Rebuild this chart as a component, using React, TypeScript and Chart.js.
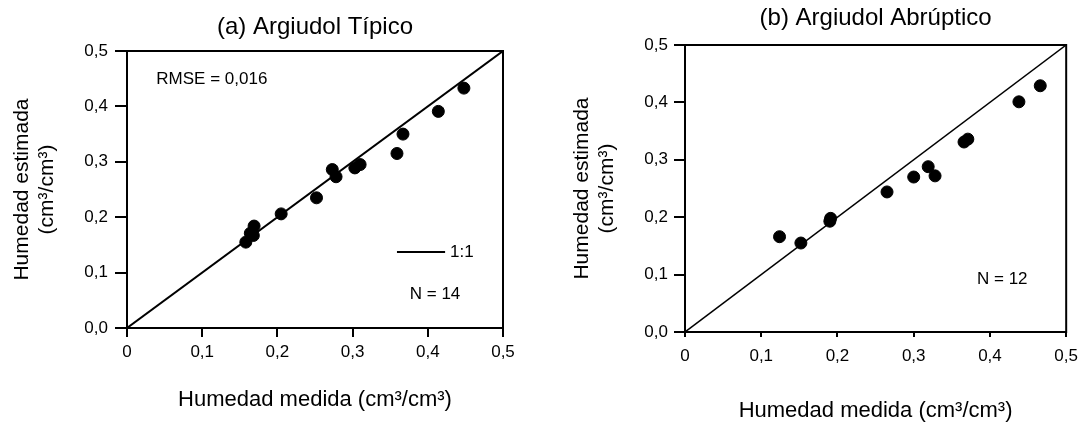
import React, { useEffect, useRef } from 'react';
import { Chart, registerables } from 'chart.js';

Chart.register(...registerables);

// ---------- data ----------
const xTickLabels = ['0', '0,1', '0,2', '0,3', '0,4', '0,5'];
const yTickLabels = ['0,0', '0,1', '0,2', '0,3', '0,4', '0,5'];

const typicMeasured = [0.448, 0.414, 0.367, 0.359, 0.31, 0.303, 0.273, 0.278, 0.252, 0.205, 0.169, 0.164, 0.168, 0.158];
const typicEstimated = [0.433, 0.391, 0.35, 0.315, 0.295, 0.289, 0.286, 0.273, 0.235, 0.206, 0.184, 0.171, 0.167, 0.155];

const abruptMeasured = [0.466, 0.438, 0.371, 0.366, 0.319, 0.328, 0.3, 0.265, 0.191, 0.19, 0.152, 0.124];
const abruptEstimated = [0.429, 0.401, 0.336, 0.331, 0.288, 0.272, 0.27, 0.244, 0.198, 0.193, 0.155, 0.166];

const oneToOne = [0, 0.5];

const titleA = '(a) Argiudol Típico';
const titleB = '(b) Argiudol Abrúptico';
const xTitle = 'Humedad medida (cm³/cm³)';
const yTitle = ['Humedad estimada', '(cm³/cm³)'];
const rmseText = 'RMSE = 0,016';
const nTextA = 'N = 14';
const nTextB = 'N = 12';
const lineLabel = '1:1';

const FONT = '"Liberation Sans", Arial, Helvetica, sans-serif';

type TextNote = { text: string; x: number; y: number };
type Panel = {
  title: string;
  measured: number[];
  estimated: number[];
  notes: TextNote[];
  legendLine?: { x1: number; x2: number; y: number; label: string; labelX: number };
  width: number;
  yScaleWidth: number;
  xScaleHeight: number;
  rightPad: number;
  titlePad: { top: number; bottom: number };
  yTitlePad: number;
  xTitlePad: number;
  yTickLen: number;
  yTickPad: number;
  xTickLen: number;
  xTickPad: number;
  lineWidth: number;
};

const panelA: Panel = {
  title: titleA,
  measured: typicMeasured,
  estimated: typicEstimated,
  notes: [
    { text: rmseText, x: 0.039, y: 0.449 },
    { text: nTextA, x: 0.376, y: 0.06 },
  ],
  legendLine: { x1: 0.359, x2: 0.423, y: 0.137, label: lineLabel, labelX: 0.4295 },
  width: 540,
  yScaleWidth: 127,
  xScaleHeight: 94,
  rightPad: 37,
  titlePad: { top: 12.6, bottom: 9.6 },
  yTitlePad: 9.4,
  xTitlePad: 11,
  yTickLen: 12,
  yTickPad: 7,
  xTickLen: 9,
  xTickPad: 5,
  lineWidth: 2,
};

const panelB: Panel = {
  title: titleB,
  measured: abruptMeasured,
  estimated: abruptEstimated,
  notes: [{ text: nTextB, x: 0.383, y: 0.091 }],
  width: 547,
  yScaleWidth: 145,
  xScaleHeight: 90,
  rightPad: 18,
  titlePad: { top: 3.6, bottom: 12.6 },
  yTitlePad: 29.4,
  xTitlePad: 0,
  yTickLen: 11,
  yTickPad: 6,
  xTickLen: 5,
  xTickPad: 9,
  lineWidth: 1.5,
};

function makeAnnotPlugin(p: Panel) {
  return {
    id: 'annot',
    beforeDatasetsDraw(chart: any) {
      const { ctx, chartArea } = chart;
      ctx.save();
      ctx.strokeStyle = '#000';
      ctx.lineWidth = 2;
      ctx.strokeRect(chartArea.left, chartArea.top, chartArea.right - chartArea.left, chartArea.bottom - chartArea.top);
      ctx.restore();
    },
    afterDatasetsDraw(chart: any) {
      const { ctx } = chart;
      const xs = chart.scales.x;
      const ys = chart.scales.y;
      ctx.save();
      ctx.fillStyle = '#000';
      ctx.font = `17px ${FONT}`;
      ctx.textAlign = 'left';
      ctx.textBaseline = 'middle';
      p.notes.forEach((n) => {
        ctx.fillText(n.text, xs.getPixelForValue(n.x), ys.getPixelForValue(n.y));
      });
      if (p.legendLine) {
        const l = p.legendLine;
        const yy = ys.getPixelForValue(l.y);
        ctx.strokeStyle = '#000';
        ctx.lineWidth = 2;
        ctx.beginPath();
        ctx.moveTo(xs.getPixelForValue(l.x1), yy);
        ctx.lineTo(xs.getPixelForValue(l.x2), yy);
        ctx.stroke();
        ctx.fillText(l.label, xs.getPixelForValue(l.labelX), yy);
      }
      ctx.restore();
    },
  };
}

function buildConfig(p: Panel): any {
  const points = p.measured.map((x, i) => ({ x, y: p.estimated[i] }));
  const line = oneToOne.map((v) => ({ x: v, y: v }));
  return {
    type: 'scatter',
    data: {
      datasets: [
        {
          label: lineLabel,
          data: line,
          showLine: true,
          borderColor: '#000',
          borderWidth: p.lineWidth,
          pointRadius: 0,
          fill: false,
        },
        {
          label: 'datos',
          data: points,
          backgroundColor: '#000',
          borderColor: '#000',
          borderWidth: 1,
          pointRadius: 6,
        },
      ],
    },
    options: {
      animation: false,
      responsive: false,
      maintainAspectRatio: false,
      layout: { padding: { left: 0, right: p.rightPad, top: 0, bottom: 0 } },
      plugins: {
        legend: { display: false },
        tooltip: { enabled: false },
        title: {
          display: true,
          text: p.title,
          fullSize: false,
          color: '#000',
          font: { family: FONT, size: 24, weight: 'normal', lineHeight: 1.2 },
          padding: { top: p.titlePad.top, bottom: p.titlePad.bottom },
        },
      },
      scales: {
        x: {
          type: 'linear',
          min: 0,
          max: 0.5,
          afterFit: (s: any) => {
            s.height = p.xScaleHeight;
          },
          border: { display: true, color: '#000', width: 2 },
          grid: { drawOnChartArea: false, drawTicks: true, tickLength: p.xTickLen, color: '#000', lineWidth: 2 },
          ticks: {
            stepSize: 0.1,
            autoSkip: false,
            maxRotation: 0,
            padding: p.xTickPad,
            color: '#000',
            font: { family: FONT, size: 17 },
            callback: (_v: any, i: number) => xTickLabels[i],
          },
          title: {
            display: true,
            text: xTitle,
            color: '#000',
            font: { family: FONT, size: 22, lineHeight: 1 },
            padding: { top: 0, bottom: p.xTitlePad },
          },
        },
        y: {
          type: 'linear',
          min: 0,
          max: 0.5,
          afterFit: (s: any) => {
            s.width = p.yScaleWidth;
          },
          border: { display: true, color: '#000', width: 2 },
          grid: { drawOnChartArea: false, drawTicks: true, tickLength: p.yTickLen, color: '#000', lineWidth: 2 },
          ticks: {
            stepSize: 0.1,
            autoSkip: false,
            padding: p.yTickPad,
            color: '#000',
            font: { family: FONT, size: 17 },
            callback: (_v: any, i: number) => yTickLabels[i],
          },
          title: {
            display: true,
            text: yTitle,
            color: '#000',
            font: { family: FONT, size: 21, lineHeight: 1.2 },
            padding: { top: p.yTitlePad, bottom: 0 },
          },
        },
      },
    },
    plugins: [makeAnnotPlugin(p)],
  };
}

function PanelChart({ panel, left }: { panel: Panel; left: number }) {
  const ref = useRef<HTMLCanvasElement | null>(null);
  useEffect(() => {
    if (!ref.current) return;
    const chart = new Chart(ref.current, buildConfig(panel));
    return () => chart.destroy();
  }, [panel]);
  return (
    <div style={{ position: 'absolute', left, top: 0, width: panel.width, height: 422 }}>
      <canvas ref={ref} width={panel.width} height={422} style={{ display: 'block' }} />
    </div>
  );
}

export default function App() {
  return (
    <div style={{ position: 'fixed', left: 0, top: 0, width: 1087, height: 422, background: '#fff', overflow: 'hidden' }}>
      <PanelChart panel={panelA} left={0} />
      <PanelChart panel={panelB} left={540} />
    </div>
  );
}
